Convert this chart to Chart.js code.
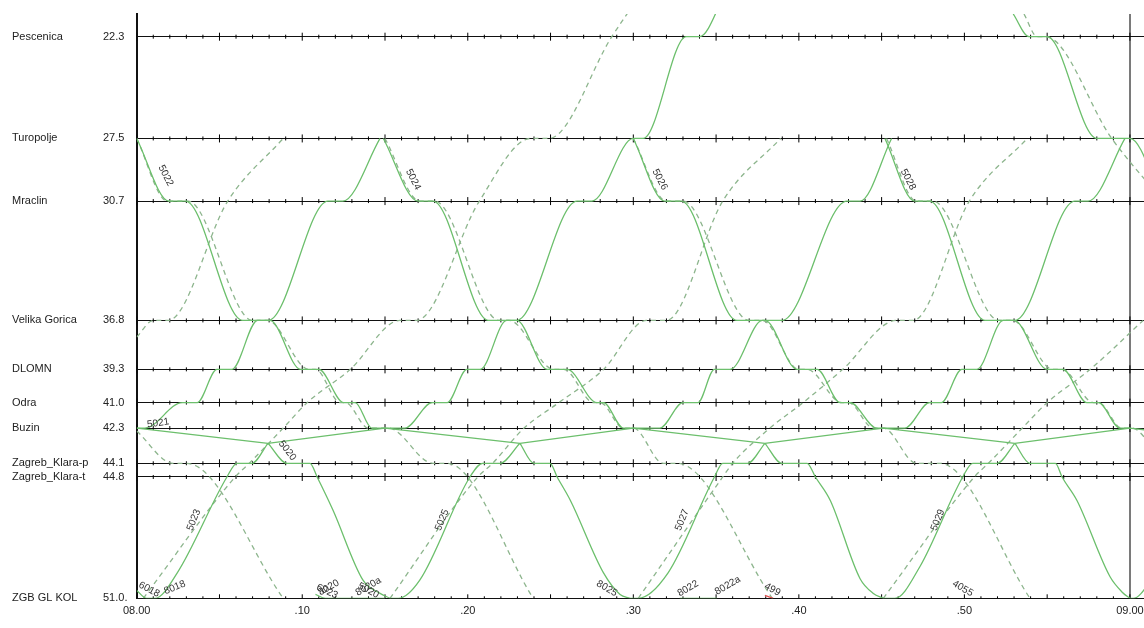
<!DOCTYPE html>
<html>
<head>
<meta charset="utf-8">
<script src="https://cdn.jsdelivr.net/npm/chart.js@4.4.1/dist/chart.umd.min.js"></script>
<style>
  html, body { margin: 0; padding: 0; background: #ffffff; }
  canvas { display: block; }
</style>
</head>
<body>
<canvas id="c" width="1144" height="628"></canvas>
<script>
// ---------- axes data ----------
const stations = ['Pescenica', 'Turopolje', 'Mraclin', 'Velika Gorica', 'DLOMN', 'Odra', 'Buzin', 'Zagreb_Klara-p', 'Zagreb_Klara-t', 'ZGB GL KOL'];
const stationKm = [22.3, 27.5, 30.7, 36.8, 39.3, 41.0, 42.3, 44.1, 44.8, 51.0];
const stationKmLabels = ['22.3', '27.5', '30.7', '36.8', '39.3', '41.0', '42.3', '44.1', '44.8', '51.0.'];
const timeTicks = [0, 10, 20, 30, 40, 50, 60];           // minutes after 08:00
const timeTickLabels = ['08.00', '.10', '.20', '.30', '.40', '.50', '09.00'];
const minuteMarks = Array.from({ length: 61 }, (_, i) => i);

// ---------- train paths: [minute after 08:00, km] ----------
// solid trains, upper section (Turopolje <-> Buzin), down direction
const s5022 = [[0, 27.5], [1.95, 30.7], [2.95, 30.7], [6.4, 36.8], [8.05, 36.8], [9.9, 39.3], [11.0, 39.3], [12.5, 41.0], [13.2, 41.0], [14.2, 42.3], [15.0, 42.3]];
const s5024 = [[14.9, 27.5], [17.0, 30.7], [17.9, 30.7], [21.25, 36.8], [22.95, 36.8], [24.8, 39.3], [26.0, 39.3], [27.8, 41.0], [28.2, 41.0], [29.4, 42.3], [30.0, 42.3]];
const s5026 = [[30.0, 27.5], [31.9, 30.7], [32.9, 30.7], [36.25, 36.8], [37.95, 36.8], [39.9, 39.3], [41.1, 39.3], [42.5, 41.0], [43.1, 41.0], [44.7, 42.3], [45.1, 42.3]];
const s5028 = [[45.2, 27.5], [47.0, 30.7], [47.9, 30.7], [51.25, 36.8], [53.0, 36.8], [55.0, 39.3], [55.95, 39.3], [57.4, 41.0], [58.1, 41.0], [59.4, 42.3], [60.0, 42.3]];
const sPescDown = [[52.95, 21.14], [53.9, 22.3], [55.0, 22.3], [58.0, 27.5], [60.0, 27.5], [62.0, 30.7]];
// solid trains, upper section, up direction
const s5021 = [[0, 42.3], [0.5, 42.3], [2.75, 41.0], [3.65, 41.0], [4.85, 39.3], [5.75, 39.3], [7.3, 36.8], [7.95, 36.8], [11.55, 30.7], [12.45, 30.7], [14.7, 27.5]];
const sUp1 = [[15.0, 42.3], [16.2, 42.3], [17.85, 41.0], [18.75, 41.0], [19.95, 39.3], [20.75, 39.3], [22.35, 36.8], [22.95, 36.8], [26.6, 30.7], [27.5, 30.7], [30.0, 27.5], [30.6, 27.5], [33.2, 22.3], [34.0, 22.3], [35.6, 20.0]];
const sUp2 = [[30.0, 42.3], [31.6, 42.3], [33.0, 41.0], [33.9, 41.0], [34.9, 39.3], [35.85, 39.3], [37.8, 36.8], [38.98, 36.8], [42.9, 30.7], [43.7, 30.7], [45.6, 27.5]];
const sUp3 = [[45.1, 42.3], [46.4, 42.3], [47.9, 41.0], [48.6, 41.0], [49.85, 39.3], [50.75, 39.3], [52.35, 36.8], [53.05, 36.8], [56.67, 30.7], [57.47, 30.7], [59.7, 27.5]];
// solid trains, lower section (ZGB GL KOL <-> junction)
const s5023 = [[0, 50.6], [0.6, 51.0], [1.1, 51.0], [2.45, 49.7], [5.45, 44.8], [6.05, 44.1], [6.96, 44.1], [7.93, 43.08]];
const s5025 = [[15.3, 51.0], [15.8, 51.0], [17.1, 50.07], [20.13, 44.8], [20.9, 44.1], [21.95, 44.1], [23.15, 43.08]];
const s5027 = [[29.8, 51.0], [30.3, 51.0], [32.1, 49.7], [34.9, 44.8], [35.4, 44.1], [36.9, 44.1], [37.95, 43.08]];
const s5029 = [[45.1, 51.0], [45.8, 51.0], [47.3, 49.4], [49.9, 44.8], [50.5, 44.1], [51.97, 44.1], [53.05, 43.08]];
const sUp4 = [[60.0, 51.0], [60.2, 51.0], [61.6, 49.7]];
const s5020 = [[7.93, 43.08], [9.08, 44.1], [10.47, 44.1], [10.9, 44.8], [11.86, 46.5], [13.67, 50.07], [14.7, 50.75], [15.3, 51.0]];
const sDown1 = [[23.15, 43.08], [24.0, 44.1], [24.97, 44.1], [25.4, 44.8], [26.2, 46.0], [28.2, 49.7], [29.2, 50.8], [29.8, 51.0]];
const sDown2 = [[37.95, 43.08], [38.97, 44.1], [40.5, 44.1], [41.0, 44.8], [41.9, 46.0], [43.7, 50.0], [44.5, 50.75], [45.1, 51.0]];
const sDown3 = [[53.05, 43.08], [53.96, 44.1], [55.5, 44.1], [55.9, 44.8], [56.8, 46.0], [58.8, 49.9], [59.55, 50.7], [60.0, 51.0]];
// straight link Buzin <-> junction
const sLink = [[0, 42.3], [7.93, 43.08], [15.0, 42.3], [23.15, 43.08], [30.0, 42.3], [37.95, 43.08], [45.1, 42.3], [53.05, 43.08], [60.0, 42.3], [61.0, 42.4]];
// short moves at ZGB GL KOL
const sStub1 = [[10.8, 50.8], [11.4, 51.0], [15.0, 51.0]];
const sStub2 = [[32.8, 51.0], [35.05, 51.0]];
const rStub = [[37.95, 50.85], [38.45, 51.0]];

// dashed trains, up direction
const dUpA = [[0, 37.65], [1.0, 36.8], [1.9, 36.8], [5.5, 30.7], [8.85, 27.5]];
const dUpB = [[0.4, 51.0], [5.95, 44.8], [6.8, 44.1], [8.85, 42.3], [10.3, 41.0], [12.9, 39.3], [15.9, 36.8], [16.9, 36.8], [20.7, 30.7], [23.8, 27.5], [24.9, 27.5], [28.7, 22.3], [30.3, 20.3]];
const dUpC = [[15.3, 51.0], [20.6, 44.8], [21.5, 44.1], [23.4, 42.3], [25.5, 41.0], [28.2, 39.3], [30.8, 36.8], [32.0, 36.8], [35.4, 30.7], [38.9, 27.5]];
const dUpD = [[30.3, 51.0], [35.4, 44.8], [36.0, 44.1], [38.25, 42.3], [40.25, 41.0], [42.65, 39.3], [45.9, 36.8], [46.9, 36.8], [50.3, 30.7], [53.8, 27.5]];
const dUpE = [[45.1, 51.0], [50.6, 44.8], [51.45, 44.1], [53.5, 42.3], [55.0, 41.0], [57.6, 39.3], [60.8, 36.8]];
// dashed trains, down direction
const dDnA = [[0, 42.45], [2.2, 44.1], [3.0, 44.1], [8.85, 51.0]];
const dDnB = [[0, 27.5], [1.85, 30.7], [3.1, 30.7], [7.0, 36.8], [7.9, 36.8], [10.4, 39.3], [10.8, 39.3], [12.3, 41.0], [12.6, 41.0], [14.0, 42.3], [15.2, 42.3], [17.9, 44.1], [18.75, 44.1], [23.95, 51.0]];
const dDnC = [[15.0, 27.5], [17.1, 30.7], [18.0, 30.7], [21.9, 36.8], [22.5, 36.8], [25.2, 39.3], [25.8, 39.3], [27.6, 41.0], [28.0, 41.0], [29.4, 42.3], [30.0, 42.3], [31.8, 44.1], [32.65, 44.1], [38.4, 51.0]];
const dDnD = [[30.0, 27.5], [32.0, 30.7], [33.0, 30.7], [37.0, 36.8], [37.8, 36.8], [40.0, 39.3], [40.5, 39.3], [42.6, 41.0], [43.0, 41.0], [44.5, 42.3], [45.1, 42.3], [47.1, 44.1], [48.5, 44.1], [53.96, 51.0]];
const dDnE = [[45.3, 27.5], [47.1, 30.7], [48.1, 30.7], [52.1, 36.8], [52.9, 36.8], [55.35, 39.3], [55.9, 39.3], [57.8, 41.0], [58.1, 41.0], [59.5, 42.3], [60.1, 42.3], [62.0, 44.1]];
const dDnF = [[53.6, 21.14], [54.4, 22.3], [54.9, 22.3], [58.9, 27.5], [62.0, 30.7]];

// train number labels: [text, minute, km, rotation°]
const trainLabels = [
  ['5022', 1.75, 29.4, 63], ['5024', 16.7, 29.6, 63], ['5026', 31.6, 29.6, 63], ['5028', 46.6, 29.6, 63],
  ['5021', 1.3, 42.05, -8], ['5020', 9.1, 43.45, 52],
  ['5023', 3.45, 47.0, -68], ['5025', 18.45, 47.0, -68], ['5027', 32.95, 47.0, -68], ['5029', 48.4, 47.0, -68],
  ['6018', 0.75, 50.55, 28], ['8018', 2.3, 50.45, -22],
  ['8020', 11.6, 50.45, -30], ['6023', 11.5, 50.65, 25],
  ['8020a', 14.0, 50.4, -30], ['5020', 14.0, 50.6, 28],
  ['8025', 28.4, 50.5, 30], ['8022', 33.3, 50.5, -30], ['8022a', 35.7, 50.35, -30],
  ['499', 38.4, 50.55, 30], ['4055', 49.9, 50.5, 30]
];

// ---------- build datasets ----------
const SOLID = '#6cbf6c';
const DASHED = '#8db58d';
const toXY = a => a.map(p => ({ x: p[0], y: p[1] }));
const curved = (path, color, dash) => ({
  data: toXY(path), borderColor: color, borderWidth: 1.3, borderDash: dash || [],
  pointRadius: 0, fill: false, cubicInterpolationMode: 'monotone', capBezierPoints: false
});
const straight = (path, color, dash) => ({
  data: toXY(path), borderColor: color, borderWidth: 1.3, borderDash: dash || [],
  pointRadius: 0, fill: false, tension: 0
});

const solidCurved = [s5022, s5024, s5026, s5028, sPescDown, s5021, sUp1, sUp2, sUp3, s5023, s5025, s5027, s5029, sUp4, s5020, sDown1, sDown2, sDown3, sStub1, sStub2];
const dashedCurved = [dUpA, dUpB, dUpC, dUpD, dUpE, dDnA, dDnB, dDnC, dDnD, dDnE, dDnF];

const datasets = [];
solidCurved.forEach(p => datasets.push(curved(p, SOLID)));
datasets.push(straight(sLink, SOLID));
datasets.push(straight(rStub, '#e05050'));
dashedCurved.forEach(p => datasets.push(curved(p, DASHED, [5, 4])));
// minute tick marks on every station line (drawn first, underneath)
datasets.push({
  data: stationKm.flatMap(km => minuteMarks.map(m => ({ x: m, y: km }))),
  showLine: false, pointStyle: 'line', rotation: 90,
  pointRadius: c => (c.raw && c.raw.x % 5 === 0 ? 4 : 2),
  pointBorderColor: '#000', pointBorderWidth: 1, borderColor: '#000', backgroundColor: '#000'
});

const FONT = { family: "'Liberation Sans', Arial, sans-serif", size: 11 };
const YMIN = 21.14, YMAX = 51.0;
const stationTicks = s => { s.ticks = stationKm.map(v => ({ value: v })); };

const labelPlugin = {
  id: 'trainLabels',
  afterDatasetsDraw(chart) {
    const { ctx, scales: { x, y } } = chart;
    ctx.save();
    ctx.font = "10px 'Liberation Sans', Arial, sans-serif";
    ctx.fillStyle = '#333';
    ctx.textAlign = 'center';
    ctx.textBaseline = 'middle';
    trainLabels.forEach(([t, m, km, rot]) => {
      ctx.save();
      ctx.translate(x.getPixelForValue(m), y.getPixelForValue(km));
      ctx.rotate(rot * Math.PI / 180);
      ctx.fillText(t, 0, 0);
      ctx.restore();
    });
    ctx.restore();
  }
};

new Chart(document.getElementById('c'), {
  type: 'line',
  data: { datasets },
  plugins: [labelPlugin],
  options: {
    responsive: false,
    animation: false,
    devicePixelRatio: 1,
    events: [],
    layout: { autoPadding: false, padding: { left: 12, top: 14, right: 0, bottom: 0 } },
    plugins: { legend: { display: false }, tooltip: { enabled: false } },
    scales: {
      x: {
        type: 'linear', min: 0, max: 60.85,
        afterBuildTicks: s => { s.ticks = timeTicks.map(v => ({ value: v })); },
        afterFit: s => { s.height = 29.7; s.paddingLeft = 0; s.paddingRight = 0; },
        ticks: { autoSkip: false, maxRotation: 0, padding: 6, color: '#222', font: FONT,
                 callback: (v, i) => timeTickLabels[i] },
        grid: { drawTicks: false, lineWidth: 2,
                color: c => (c.tick && c.tick.value === 60 ? '#7a7a7a' : 'rgba(0,0,0,0)') },
        border: { display: false }
      },
      yNames: {
        type: 'linear', position: 'left', reverse: true, min: YMIN, max: YMAX, weight: 1,
        afterBuildTicks: stationTicks,
        afterFit: s => { s.width = 91; s.paddingTop = 0; s.paddingBottom = 0; },
        ticks: { autoSkip: false, crossAlign: 'far', padding: 0, color: '#222', font: FONT,
                 callback: (v, i) => stations[i] },
        grid: { display: false },
        border: { display: false }
      },
      y: {
        type: 'linear', position: 'left', reverse: true, min: YMIN, max: YMAX, weight: 0,
        afterBuildTicks: stationTicks,
        afterFit: s => { s.width = 33.7; s.paddingTop = 0; s.paddingBottom = 0; },
        ticks: { autoSkip: false, crossAlign: 'far', padding: 0, color: '#222', font: FONT,
                 callback: (v, i) => stationKmLabels[i] },
        grid: { drawTicks: false, color: '#111', lineWidth: 1 },
        border: { display: true, color: '#111', width: 2 }
      }
    }
  }
});
</script>
</body>
</html>
